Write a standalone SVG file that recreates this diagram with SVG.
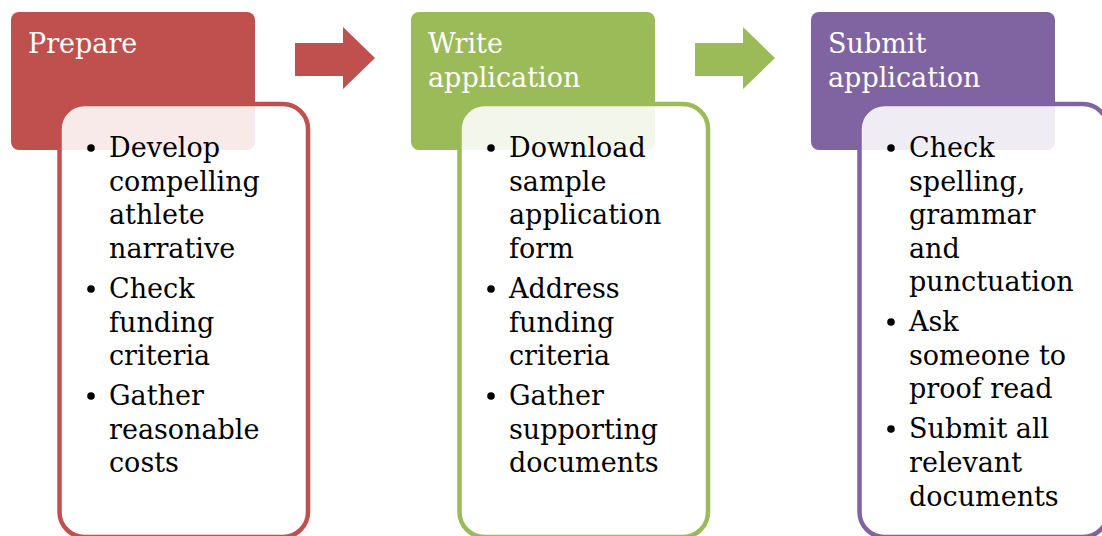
<svg xmlns="http://www.w3.org/2000/svg" width="1102" height="536" viewBox="0 0 1102 536">
<style>
.hdr{stroke:none}
.box{fill:#ffffff;fill-opacity:0.88;stroke-width:4.5}
.ht{font-family:"DejaVu Serif","Liberation Serif",serif;font-size:27px;fill:#ffffff}
.bt{font-family:"DejaVu Serif","Liberation Serif",serif;font-size:27px;fill:#000000}
.red{fill:#C0504D}.green{fill:#9BBB59}.purple{fill:#8064A2}
.sred{stroke:#C0504D}.sgreen{stroke:#9BBB59}.spurple{stroke:#8064A2}
</style>
<rect width="1102" height="536" fill="#ffffff"/>
<g id="connectors">
<polygon class="red" points="295,43 343,43 343,27 375,58 343,89 343,76 295,76"/>
<polygon class="green" points="695,43 743,43 743,27 775,58 743,89 743,76 695,76"/>
</g>
<g id="node-prepare">
<rect class="hdr red" x="11" y="12" width="244" height="138" rx="8"/>
<text class="ht" x="28" y="53">Prepare</text>
<rect class="box sred" x="59.5" y="104" width="248.5" height="433" rx="25"/>
<g class="bt">
<circle cx="91" cy="148" r="3.8"/><circle cx="91" cy="289" r="3.8"/><circle cx="91" cy="396" r="3.8"/>
<text x="109" y="157">Develop</text>
<text x="109" y="191">compelling</text>
<text x="109" y="224">athlete</text>
<text x="109" y="258">narrative</text>
<text x="109" y="298">Check</text>
<text x="109" y="332">funding</text>
<text x="109" y="365">criteria</text>
<text x="109" y="405">Gather</text>
<text x="109" y="439">reasonable</text>
<text x="109" y="472">costs</text>
</g>
</g>
<g id="node-write">
<rect class="hdr green" x="411" y="12" width="244" height="138" rx="8"/>
<text class="ht" x="428" y="53">Write</text>
<text class="ht" x="428" y="87">application</text>
<rect class="box sgreen" x="459.5" y="104" width="248.5" height="433" rx="25"/>
<g class="bt">
<circle cx="491" cy="148" r="3.8"/><circle cx="491" cy="289" r="3.8"/><circle cx="491" cy="396" r="3.8"/>
<text x="509" y="157">Download</text>
<text x="509" y="191">sample</text>
<text x="509" y="224">application</text>
<text x="509" y="258">form</text>
<text x="509" y="298">Address</text>
<text x="509" y="332">funding</text>
<text x="509" y="365">criteria</text>
<text x="509" y="405">Gather</text>
<text x="509" y="439">supporting</text>
<text x="509" y="472">documents</text>
</g>
</g>
<g id="node-submit">
<rect class="hdr purple" x="811" y="12" width="244" height="138" rx="8"/>
<text class="ht" x="828" y="53">Submit</text>
<text class="ht" x="828" y="87">application</text>
<rect class="box spurple" x="859.5" y="104" width="248.5" height="433" rx="25"/>
<g class="bt">
<circle cx="891" cy="148" r="3.8"/><circle cx="891" cy="322" r="3.8"/><circle cx="891" cy="429" r="3.8"/>
<text x="909" y="157">Check</text>
<text x="909" y="191">spelling,</text>
<text x="909" y="224">grammar</text>
<text x="909" y="258">and</text>
<text x="909" y="291">punctuation</text>
<text x="909" y="331">Ask</text>
<text x="909" y="365">someone to</text>
<text x="909" y="398">proof read</text>
<text x="909" y="438">Submit all</text>
<text x="909" y="472">relevant</text>
<text x="909" y="506">documents</text>
</g>
</g>
</svg>
